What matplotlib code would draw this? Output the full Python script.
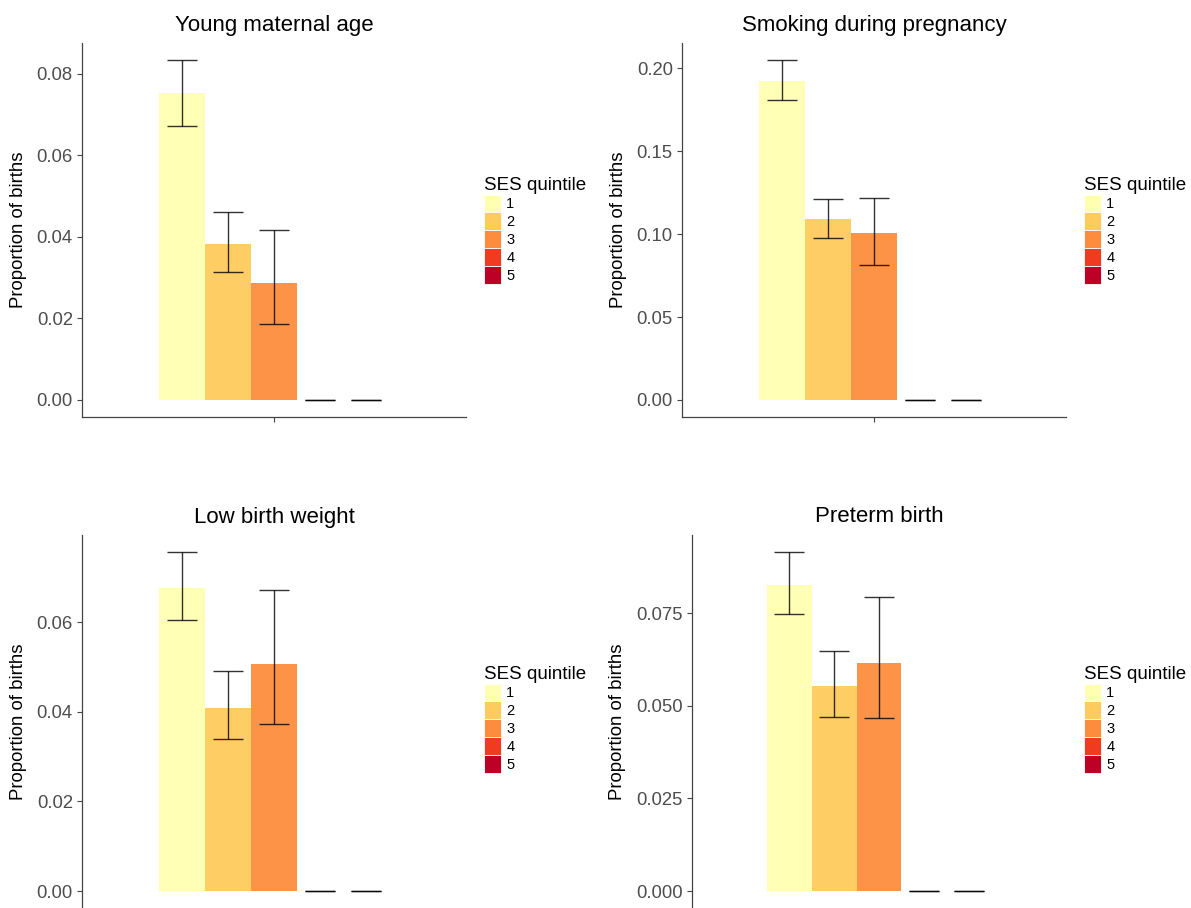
import numpy as np
import matplotlib
matplotlib.use("Agg")
import matplotlib.pyplot as plt
from matplotlib.patches import Patch

plt.rcParams['font.family'] = ['Liberation Sans', 'DejaVu Sans']

# datos
quintiles = ['1', '2', '3', '4', '5']
colores = ['#FFFFB2', '#FECC5C', '#FD8D3C', '#F03B20', '#BD0026']

titulos = ['Young maternal age', 'Smoking during pregnancy',
           'Low birth weight', 'Preterm birth']

young_val = [0.0752, 0.0383, 0.0287, 0.0, 0.0]
young_lo = [0.0673, 0.0314, 0.0187, 0.0, 0.0]
young_hi = [0.0834, 0.0462, 0.0417, 0.0, 0.0]

smoke_val = [0.1922, 0.1090, 0.1005, 0.0, 0.0]
smoke_lo = [0.1807, 0.0975, 0.0812, 0.0, 0.0]
smoke_hi = [0.2050, 0.1212, 0.1218, 0.0, 0.0]

lbw_val = [0.0676, 0.0409, 0.0506, 0.0, 0.0]
lbw_lo = [0.0604, 0.0339, 0.0373, 0.0, 0.0]
lbw_hi = [0.0757, 0.0492, 0.0672, 0.0, 0.0]

pre_val = [0.0827, 0.0554, 0.0616, 0.0, 0.0]
pre_lo = [0.0747, 0.0470, 0.0468, 0.0, 0.0]
pre_hi = [0.0915, 0.0647, 0.0793, 0.0, 0.0]

ticks_young = [0.00, 0.02, 0.04, 0.06, 0.08]
ticks_smoke = [0.00, 0.05, 0.10, 0.15, 0.20]
ticks_lbw = [0.00, 0.02, 0.04, 0.06]
ticks_pre = [0.000, 0.025, 0.050, 0.075]

W, H = 1191, 908
fig = plt.figure(figsize=(W / 100, H / 100), dpi=100)


def caja(x0, x1, ytop, ybot):
    # pixeles -> fraccion de figura
    return [x0 / W, 1 - ybot / H, (x1 - x0) / W, (ybot - ytop) / H]


paneles = [
    (caja(82, 466, 43, 417), young_val, young_lo, young_hi, ticks_young, 2, 484, 177, True),
    (caja(682, 1066, 43, 417), smoke_val, smoke_lo, smoke_hi, ticks_smoke, 2, 1084, 177, True),
    (caja(82, 466, 535, 908), lbw_val, lbw_lo, lbw_hi, ticks_lbw, 2, 484, 666, False),
    (caja(692, 1066, 535, 908), pre_val, pre_lo, pre_hi, ticks_pre, 3, 1084, 666, False),
]

ancho = 0.144
pos = 1 + (np.arange(5) - 2) * ancho

for (rect, val, lo, hi, ticks, dec, lx, ly, eje_x), titulo in zip(paneles, titulos):
    ax = fig.add_axes(rect)
    val = np.array(val)
    err = [val - np.array(lo), np.array(hi) - val]

    ax.bar(pos, val, width=ancho, color=colores, edgecolor='none', alpha=0.95)
    ax.errorbar(pos, val, yerr=err, fmt='none', ecolor='black', elinewidth=1.0,
                capsize=11, capthick=1.0, alpha=0.8)

    top = max(hi)
    ax.set_ylim(-0.05 * top, 1.05 * top)
    ax.set_xlim(0.4, 1.6)
    ax.set_yticks(ticks)
    ax.set_yticklabels([f'{t:.{dec}f}' for t in ticks])
    ax.set_xticks([1])
    ax.set_xticklabels([])

    for s in ['top', 'right']:
        ax.spines[s].set_visible(False)
    for s in ['left', 'bottom']:
        ax.spines[s].set_color('#444444')
        ax.spines[s].set_linewidth(0.9)
    if not eje_x:
        ax.spines['bottom'].set_visible(False)
        ax.tick_params(axis='x', length=0)

    ax.tick_params(axis='both', colors='#444444', labelcolor='#4D4D4D',
                   labelsize=13.3, length=3.6, width=0.8, pad=3)
    ax.set_ylabel('Proportion of births', fontsize=13.4, labelpad=7)
    ax.set_title(titulo, fontsize=16, pad=9)

    handles = [Patch(facecolor=c, edgecolor='white', linewidth=0.6, label=q)
               for c, q in zip(colores, quintiles)]
    leg = fig.legend(handles=handles, title='SES quintile', loc='upper left',
                     bbox_to_anchor=(lx / W, 1 - ly / H), frameon=False,
                     fontsize=10.5, title_fontsize=13.5, borderpad=0,
                     borderaxespad=0, handlelength=1.17, handleheight=1.45,
                     labelspacing=0.04, handletextpad=0.35, alignment='left')

fig.savefig('out.png', dpi=100)
